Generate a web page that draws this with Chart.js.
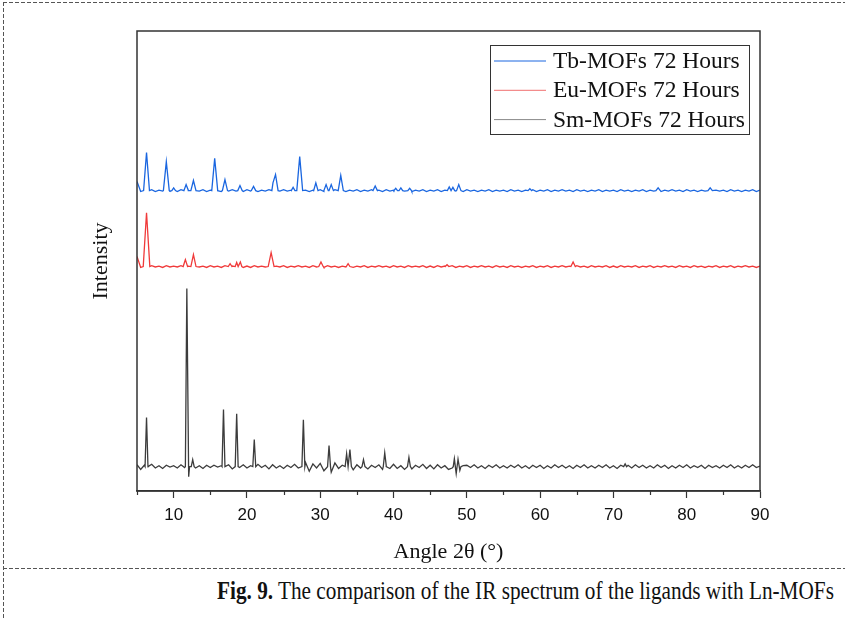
<!DOCTYPE html>
<html>
<head>
    <title>Ln-MOFs XRD</title>
    <script src="https://cdn.jsdelivr.net/npm/chart.js"></script>
    <style>
        body {
            margin: 0;
            width: 845px;
            height: 618px;
            overflow: hidden;
            background-color: #ffffff;
            position: relative;
        }
        .chart-box {
            position: absolute;
            left: 0;
            top: 0;
            width: 845px;
            height: 568px;
        }
        .dash-top, .dash-mid {
            position: absolute;
            left: 3px;
            width: 842px;
            height: 1px;
            background-image: repeating-linear-gradient(to right, #555 0 4px, transparent 4px 6px);
        }
        .dash-top { top: 2px; }
        .dash-mid { top: 568px; }
        .dash-left {
            position: absolute;
            left: 3px;
            top: 2px;
            width: 1px;
            height: 616px;
            background-image: repeating-linear-gradient(to bottom, #555 0 4px, transparent 4px 6px);
        }
        .caption {
            position: absolute;
            left: 217px;
            top: 577px;
            font-family: 'Liberation Serif', 'Times New Roman', serif;
            font-size: 25px;
            line-height: 28px;
            color: #111;
            white-space: nowrap;
            transform: scaleX(0.85);
            transform-origin: left top;
        }
    </style>
</head>
<body>
    <div class="dash-top"></div>
    <div class="dash-left"></div>
    <div class="dash-mid"></div>
    <div class="chart-box"><canvas id="xrdChart" width="845" height="568"></canvas></div>
    <div class="caption"><b>Fig. 9.</b> The comparison of the IR spectrum of the ligands with Ln-MOFs</div>

    <script>
        // Series names as in the legend
        var seriesNames = ["Tb-MOFs 72 Hours", "Eu-MOFs 72 Hours", "Sm-MOFs 72 Hours"];
        var seriesColors = ["#1a66e0", "#f03a3a", "#3c3c3c"];
        var legendColors = ["#1a66e0", "#f07070", "#888888"];

        // vertical offset of each pattern (a.u.)
        var offsets = [653, 488, 53];

        // Baseline readings every 0.5 deg from 5 to 90 (a.u., relative to the offset)
        var tbNoise = [
            20,-2,1,-1,2,-2,1,-1,2,-1,  1,-2,2,-1,1,-2,1,-1,2,-2,
            1,-1,2,-2,1,-1,2,-1,1,-2,   2,-1,1,-2,1,-1,2,-2,1,-1,
            2,-1,1,-2,2,-1,1,-2,1,-1,   2,-2,1,-1,2,-1,1,-2,1,-1,
            2,-2,1,-1,2,-1,1,-2,2,-1,   1,-2,2,-1,1,-2,1,-1,2,-2,
            1,-1,2,-2,1,-1,2,-1,1,-2,   2,-1,1,-2,1,-1,2,-2,1,-1,
            1,-2,2,-1,1,-2,1,-1,2,-2,   1,-1,2,-2,1,-1,2,-1,1,-2,
            2,-1,1,-2,1,-1,2,-2,1,-1,   1,-2,2,-1,1,-2,1,-1,2,-2,
            1,-1,2,-2,1,-1,2,-1,1,-2,   2,-1,1,-2,1,-1,2,-2,1,-1,
            1,-2,2,-1,1,-2,1,-1,2,-2,   1
        ];
        var euNoise = [
            22,-2,1,-1,2,-1,1,-2,2,-1,  1,-1,2,-2,1,-1,2,-1,1,-2,
            2,-1,1,-2,2,-1,1,-1,2,-2,   1,-2,2,-1,1,-1,2,-2,1,-1,
            2,-2,1,-1,2,-1,1,-2,2,-1,   1,-2,2,-1,1,-2,1,-1,2,-2,
            1,-1,2,-2,1,-1,2,-1,1,-2,   2,-1,1,-2,2,-1,1,-1,2,-2,
            1,-2,2,-1,1,-1,2,-2,1,-1,   2,-2,1,-1,2,-1,1,-2,2,-1,
            1,-2,2,-1,1,-2,1,-1,2,-2,   1,-1,2,-2,1,-1,2,-1,1,-2,
            2,-1,1,-2,2,-1,1,-1,2,-2,   1,-2,2,-1,1,-1,2,-2,1,-1,
            2,-2,1,-1,2,-1,1,-2,2,-1,   1,-2,2,-1,1,-2,1,-1,2,-2,
            1,-1,2,-2,1,-1,2,-1,1,-2,   1
        ];
        var smNoise = [
            4,-6,3,-2,5,-3,2,-4,3,-1,   2,-3,4,-2,-6,3,-3,2,-4,3,
            -2,3,-1,2,-3,4,-5,3,-2,4,   -3,2,-4,5,-2,3,-5,4,-3,2,
            -4,3,-2,5,-3,-8,9,-10,6,-3, 7,-9,5,-12,8,-4,3,-6,9,-7,
            4,-3,6,-5,3,-2,4,-6,3,-4,   5,-4,2,-6,4,-5,3,-2,5,-4,
            3,-5,4,-3,2,-6,-3,5,-4,2,   3,-2,4,-3,2,-4,3,-2,4,-3,
            2,-3,3,-2,4,-3,2,-4,3,-2,   3,-4,2,-3,4,-2,3,-3,2,-4,
            3,-2,4,-3,2,-3,3,-2,4,-3,   2,-4,3,-2,3,-3,4,-2,3,-3,
            2,-3,4,-2,3,-4,2,-3,3,-2,   4,-3,2,-2,3,-4,3,-2,2,-3,
            3,-2,4,-3,2,-3,3,-2,4,-2,   1
        ];

        // Peaks: [angle 2theta, height (a.u.), half width at base]
        var tbPeaks = [
            [6.3,83,0.4],[9.0,63,0.4],[10.0,6,0.25],[11.7,13,0.3],[12.7,22,0.35],
            [15.6,70,0.4],[17.0,24,0.35],[19.05,11,0.3],[20.9,9,0.3],[23.55,17,0.15],
            [23.9,35,0.35],[26.3,7,0.25],[27.2,74,0.4],[29.4,17,0.3],[30.8,13,0.3],
            [31.5,13,0.3],[32.8,33,0.35],[37.5,10,0.3],[40.3,5,0.25],[41.0,6,0.25],
            [42.2,5,0.25],[47.6,8,0.25],[48.1,7,0.25],[48.9,13,0.3],[58.6,4,0.25],
            [76.1,6,0.3],[83.2,6,0.3]
        ];
        var euPeaks = [
            [6.3,117,0.45],[11.6,15,0.3],[12.7,26,0.35],[17.7,6,0.25],[18.6,9,0.2],
            [19.1,10,0.2],[23.3,30,0.4],[30.1,10,0.3],[33.8,6,0.25],[47.3,4,0.25],
            [64.5,10,0.3]
        ];
        var smPeaks = [
            [6.3,107,0.2],[11.8,387,0.2],[12.05,-22,0.12],[12.6,15,0.2],[16.8,124,0.2],
            [18.6,115,0.2],[21.0,59,0.2],[27.7,102,0.2],[31.2,46,0.2],[33.6,28,0.2],
            [34.05,37,0.2],[35.9,15,0.2],[38.8,30,0.2],[42.1,20,0.2],[48.3,17,0.15],
            [48.55,-15,0.15],[48.8,16,0.15],[49.05,-8,0.15],[71.6,6,0.2]
        ];

        var xTicks = [10, 20, 30, 40, 50, 60, 70, 80, 90];

        // merge baseline readings and peaks into one sorted point list
        function buildSeries(noise, peaks, offset) {
            var pts = [];
            noise.forEach(function(v, i) {
                var x = 5 + i * 0.5;
                var inside = peaks.some(function(p) { return Math.abs(x - p[0]) <= p[2]; });
                if (!inside) pts.push({ x: x, y: v + offset });
            });
            peaks.forEach(function(p) {
                [p[0] - p[2], p[0] + p[2]].forEach(function(bx) {
                    var covered = peaks.some(function(q) { return q !== p && Math.abs(bx - q[0]) < q[2]; });
                    if (!covered) pts.push({ x: bx, y: offset });
                });
                pts.push({ x: p[0], y: p[1] + offset });
            });
            pts.sort(function(a, b) { return a.x - b.x; });
            return pts;
        }

        var serifFont = "'Liberation Serif', 'Times New Roman', serif";

        // frame, minor ticks and legend box
        var framePlugin = {
            id: 'framePlugin',
            afterDraw: function(chart) {
                var ctx = chart.ctx;
                var a = chart.chartArea;
                var xs = chart.scales.x;
                ctx.save();
                ctx.strokeStyle = '#333';
                ctx.lineWidth = 1.5;
                ctx.strokeRect(a.left, a.top, a.right - a.left, a.bottom - a.top);

                // minor ticks
                ctx.lineWidth = 1.2;
                for (var v = 5; v < 90; v += 10) {
                    var px = Math.round(xs.getPixelForValue(v)) + 0.5;
                    ctx.beginPath();
                    ctx.moveTo(px, a.bottom);
                    ctx.lineTo(px, a.bottom + 4);
                    ctx.stroke();
                }

                // legend
                ctx.lineWidth = 1;
                ctx.strokeStyle = '#333';
                ctx.strokeRect(490.5, 45.5, 259, 89);
                ctx.font = '23.5px ' + serifFont;
                ctx.textBaseline = 'middle';
                ctx.fillStyle = '#111';
                seriesNames.forEach(function(name, i) {
                    var y = 61 + i * 29.3;
                    ctx.strokeStyle = legendColors[i];
                    ctx.lineWidth = 1;
                    ctx.beginPath();
                    ctx.moveTo(494, y);
                    ctx.lineTo(546, y);
                    ctx.stroke();
                    ctx.fillText(name, 553, y + 1);
                });
                ctx.restore();
            }
        };

        var allNoise = [tbNoise, euNoise, smNoise];
        var allPeaks = [tbPeaks, euPeaks, smPeaks];

        var ctx = document.getElementById('xrdChart').getContext('2d');
        new Chart(ctx, {
            type: 'line',
            plugins: [framePlugin],
            data: {
                datasets: seriesNames.map(function(name, i) {
                    return {
                        label: name,
                        data: buildSeries(allNoise[i], allPeaks[i], offsets[i]),
                        borderColor: seriesColors[i],
                        borderWidth: 1.3,
                        pointRadius: 0,
                        tension: 0,
                        fill: false
                    };
                })
            },
            options: {
                responsive: false,
                animation: false,
                layout: { padding: { left: 0, right: 85, top: 31, bottom: 0 } },
                plugins: {
                    legend: { display: false },
                    tooltip: { enabled: false }
                },
                scales: {
                    x: {
                        type: 'linear',
                        min: 5,
                        max: 90,
                        afterFit: function(scale) { scale.height = 77; },
                        ticks: {
                            stepSize: 5,
                            autoSkip: false,
                            maxRotation: 0,
                            padding: 7,
                            color: '#111',
                            font: { family: "'Liberation Sans Narrow', 'Arial Narrow', 'Liberation Sans', sans-serif", size: 17 },
                            callback: function(v) { return xTicks.indexOf(v) >= 0 ? String(v) : ''; }
                        },
                        grid: {
                            drawOnChartArea: false,
                            tickLength: 7,
                            tickWidth: 1.2,
                            tickColor: function(c) {
                                return c.tick && xTicks.indexOf(c.tick.value) >= 0 ? '#333' : 'rgba(0,0,0,0)';
                            }
                        },
                        border: { display: true, color: '#333', width: 1.5 },
                        title: {
                            display: true,
                            text: 'Angle 2θ (°)',
                            color: '#111',
                            font: { family: serifFont, size: 22 },
                            padding: { top: 0, bottom: 3 }
                        }
                    },
                    y: {
                        min: 0,
                        max: 1000,
                        afterFit: function(scale) { scale.width = 137; },
                        ticks: { display: false },
                        grid: { display: false },
                        border: { display: false },
                        title: {
                            display: true,
                            text: 'Intensity',
                            color: '#111',
                            font: { family: serifFont, size: 22 },
                            padding: { top: 88, bottom: 0 }
                        }
                    }
                }
            }
        });
    </script>
</body>
</html>
